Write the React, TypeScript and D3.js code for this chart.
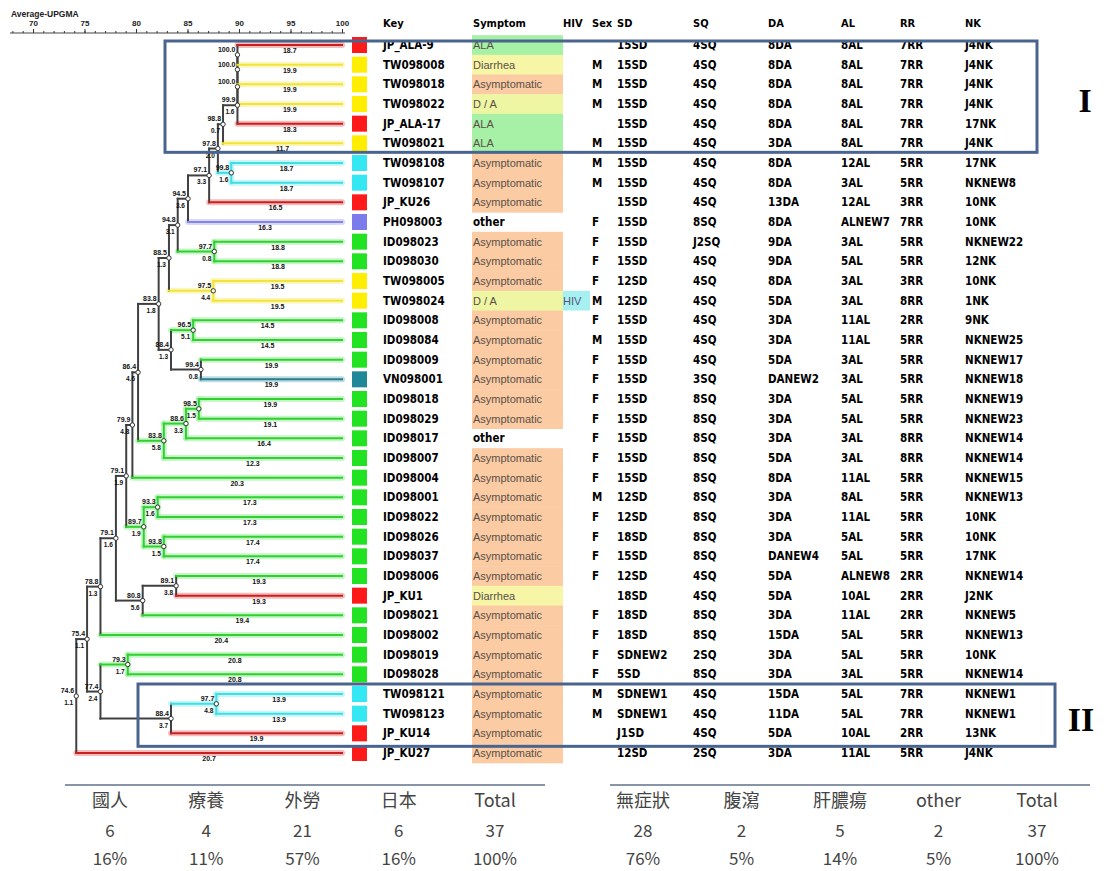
import React, { useEffect, useRef } from 'react';
import * as d3 from 'd3';

// ---------------- data ----------------
const keys = ['JP_ALA-9','TW098008','TW098018','TW098022','JP_ALA-17','TW098021','TW098108','TW098107','JP_KU26','PH098003','ID098023','ID098030','TW098005','TW098024','ID098008','ID098084','ID098009','VN098001','ID098018','ID098029','ID098017','ID098007','ID098004','ID098001','ID098022','ID098026','ID098037','ID098006','JP_KU1','ID098021','ID098002','ID098019','ID098028','TW098121','TW098123','JP_KU14','JP_KU27'];
const symptoms = ['ALA','Diarrhea','Asymptomatic','D / A','ALA','ALA','Asymptomatic','Asymptomatic','Asymptomatic','other','Asymptomatic','Asymptomatic','Asymptomatic','D / A','Asymptomatic','Asymptomatic','Asymptomatic','Asymptomatic','Asymptomatic','Asymptomatic','other','Asymptomatic','Asymptomatic','Asymptomatic','Asymptomatic','Asymptomatic','Asymptomatic','Asymptomatic','Diarrhea','Asymptomatic','Asymptomatic','Asymptomatic','Asymptomatic','Asymptomatic','Asymptomatic','Asymptomatic','Asymptomatic'];
const hivVals = ['','','','','','','','','','','','','','HIV','','','','','','','','','','','','','','','','','','','','','','',''];
const sexVals = ['','M','M','M','','M','M','M','','F','F','F','F','M','F','M','F','F','F','F','F','F','F','M','F','F','F','F','','F','F','F','F','M','M','',''];
const sdVals = ['15SD','15SD','15SD','15SD','15SD','15SD','15SD','15SD','15SD','15SD','15SD','15SD','12SD','12SD','15SD','15SD','15SD','15SD','15SD','15SD','15SD','15SD','15SD','12SD','12SD','18SD','15SD','12SD','18SD','18SD','18SD','SDNEW2','5SD','SDNEW1','SDNEW1','J1SD','12SD'];
const sqVals = ['4SQ','4SQ','4SQ','4SQ','4SQ','4SQ','4SQ','4SQ','4SQ','8SQ','J2SQ','4SQ','4SQ','4SQ','4SQ','4SQ','4SQ','3SQ','8SQ','8SQ','8SQ','8SQ','8SQ','8SQ','8SQ','8SQ','8SQ','4SQ','4SQ','8SQ','8SQ','2SQ','8SQ','4SQ','4SQ','4SQ','2SQ'];
const daVals = ['8DA','8DA','8DA','8DA','8DA','3DA','8DA','8DA','13DA','8DA','9DA','9DA','8DA','5DA','3DA','3DA','5DA','DANEW2','3DA','3DA','3DA','5DA','8DA','3DA','3DA','3DA','DANEW4','5DA','5DA','3DA','15DA','3DA','3DA','15DA','11DA','5DA','3DA'];
const alVals = ['8AL','8AL','8AL','8AL','8AL','8AL','12AL','3AL','12AL','ALNEW7','3AL','5AL','3AL','3AL','11AL','11AL','3AL','3AL','5AL','5AL','3AL','3AL','11AL','8AL','11AL','5AL','5AL','ALNEW8','10AL','11AL','5AL','5AL','3AL','5AL','5AL','10AL','11AL'];
const rrVals = ['7RR','7RR','7RR','7RR','7RR','7RR','5RR','5RR','3RR','7RR','5RR','5RR','3RR','8RR','2RR','5RR','5RR','5RR','5RR','5RR','8RR','8RR','5RR','5RR','5RR','5RR','5RR','2RR','2RR','2RR','5RR','5RR','5RR','7RR','7RR','2RR','5RR'];
const nkVals = ['J4NK','J4NK','J4NK','J4NK','17NK','J4NK','17NK','NKNEW8','10NK','10NK','NKNEW22','12NK','10NK','1NK','9NK','NKNEW25','NKNEW17','NKNEW18','NKNEW19','NKNEW23','NKNEW14','NKNEW14','NKNEW15','NKNEW13','10NK','10NK','17NK','NKNEW14','J2NK','NKNEW5','NKNEW13','10NK','NKNEW14','NKNEW1','NKNEW1','13NK','J4NK'];
const groups = ['R','Y','Y','Y','R','Y','C','C','R','P','G','G','Y','Y','G','G','G','T','G','G','G','G','G','G','G','G','G','G','R','G','G','G','G','C','C','R','R'];
const leafLengths = ['18.7','19.9','19.9','19.9','18.3','11.7','18.7','18.7','16.5','16.3','18.8','18.8','19.5','19.5','14.5','14.5','19.9','19.9','19.9','19.1','16.4','12.3','20.3','17.3','17.3','17.4','17.4','19.3','19.3','19.4','20.4','20.8','20.8','13.9','13.9','19.9','20.7'];
const headers = ['Key','Symptom','HIV','Sex','SD','SQ','DA','AL','RR','NK'];
const axisTicks = [70, 75, 80, 85, 90, 95, 100];

const natHeaders = ['國人','療養','外勞','日本','Total'];
const natCounts = ['6','4','21','6','37'];
const natPct = ['16%','11%','57%','16%','100%'];
const symHeaders = ['無症狀','腹瀉','肝膿瘍','other','Total'];
const symCounts = ['28','2','5','2','37'];
const symPct = ['76%','5%','14%','5%','100%'];

// tree (similarity of each join, displayed node label, std dev label)
type TNode = { sim?: number; label?: string; sd?: string; leaf?: number; children?: TNode[] };
const N = (sim: number, label: string, sd: string, ...kids: (TNode | number)[]): TNode => ({
  sim, label, sd, children: kids.map(k => (typeof k === 'number' ? { leaf: k } : k)),
});
const A1 = N(89.85, '100.0', '', 0, 1);
const A2 = N(89.85, '100.0', '', A1, 2);
const A3 = N(89.85, '100.0', '', A2, 3);
const A4 = N(89.85, '99.9', '1.6', A3, 4);
const C2 = N(88.45, '98.8', '0.7', A4, 5);
const CY1 = N(89.25, '99.8', '1.6', 6, 7);
const C3 = N(87.95, '97.8', '2.0', C2, CY1);
const C4 = N(87.1, '97.1', '3.3', C3, 8);
const N187 = N(85.05, '94.5', '3.6', C4, 9);
const G1 = N(87.6, '97.7', '0.8', 10, 11);
const N177 = N(84.05, '94.8', '3.1', N187, G1);
const Y1 = N(87.5, '97.5', '4.4', 12, 13);
const N168 = N(83.2, '88.5', '1.3', N177, Y1);
const G2 = N(85.55, '96.5', '5.1', 14, 15);
const G3 = N(86.3, '99.4', '0.8', 16, 17);
const N170 = N(83.4, '88.4', '1.3', G2, G3);
const N158 = N(82.2, '83.8', '1.8', N168, N170);
const G7 = N(86.1, '98.5', '1.5', 18, 19);
const N185 = N(84.85, '88.6', '3.3', G7, 20);
const N163 = N(82.7, '83.8', '5.8', N185, 21);
const N140 = N(80.2, '86.4', '4.6', N158, N163);
const N133 = N(79.65, '79.9', '4.8', N140, 22);
const G4 = N(82.1, '93.3', '1.6', 23, 24);
const G5 = N(82.7, '93.8', '1.5', 25, 26);
const NL = N(80.75, '89.7', '1.9', G4, G5);
const N127 = N(79.05, '79.1', '1.9', N133, NL);
const N175 = N(83.9, '89.1', '3.8', 27, 28);
const NKU = N(80.65, '80.8', '5.6', N175, 29);
const N115 = N(78.05, '79.1', '1.6', N127, NKU);
const N100 = N(76.55, '78.8', '1.3', N115, 30);
const G6 = N(79.2, '79.3', '1.7', 31, 32);
const CY2 = N(87.8, '97.7', '4.8', 33, 34);
const NII = N(83.4, '88.4', '3.7', CY2, 35);
const N110 = N(76.55, '77.4', '2.4', G6, NII);
const N87 = N(75.25, '75.4', '1.1', N100, N110);
const ROOT = N(74.2, '74.6', '1.1', N87, 36);

// ---------------- styles ----------------
const squareColor: Record<string, string> = { R: '#ff1a1a', Y: '#ffee00', C: '#33e8f2', G: '#22e322', P: '#7b7bec', T: '#1f8898' };
const lineColor: Record<string, string> = { R: '#c82020', Y: '#f0e43a', C: '#40dde2', G: '#2fd02f', P: '#8585e8', T: '#2a7d8a' };
const glowColor: Record<string, string> = { R: '#f3a0a0', Y: '#fbf5a8', C: '#b0f4f6', G: '#b0f4b0', P: '#c8c8f8', T: '#a0d0d8' };
const symptomBg: Record<string, string> = { Asymptomatic: '#fbcba3', Diarrhea: '#f6f6a6', 'D / A': '#eef6a4', ALA: '#a7f1a7', other: 'none' };
const DARK = '#404040';
const boldFont = '"Liberation Sans Narrow", "Arial Narrow", "DejaVu Sans Condensed", sans-serif';

const xScale = d3.scaleLinear().domain([70, 100]).range([33, 342]);
const yScale = d3.scaleLinear().domain([0, 36]).range([45, 753]);
const colX = [383, 473, 563, 592, 617, 693, 768, 841, 900, 965];
const natX = d3.scalePoint<string>().domain(natHeaders).range([110, 495]);
const symX = d3.scalePoint<string>().domain(symHeaders).range([643, 1037]);

type Laid = { node: TNode; x: number; y: number; grp: string | null; kids: Laid[] };
function layout(n: TNode): Laid {
  if (n.leaf !== undefined) {
    return { node: n, x: xScale(100), y: yScale(n.leaf), grp: groups[n.leaf], kids: [] };
  }
  const kids = (n.children || []).map(layout);
  const y = (kids[0].y + kids[kids.length - 1].y) / 2;
  const g0 = kids[0].grp;
  const grp = kids.every(k => k.grp === g0) ? g0 : null;
  return { node: n, x: xScale(n.sim as number), y, grp, kids };
}

export default function App() {
  const axisRef = useRef<SVGGElement>(null);
  useEffect(() => {
    if (!axisRef.current) return;
    const g = d3.select(axisRef.current);
    g.selectAll('*').remove();
    const minor = d3.axisTop(xScale).tickValues(d3.range(68, 101, 1)).tickSize(2).tickFormat(() => '');
    const major = d3.axisTop(xScale).tickValues(axisTicks).tickSize(4).tickFormat(d3.format('d'));
    g.append('g').call(minor).call(s => s.select('.domain').remove());
    g.append('g').call(major).call(s => s.select('.domain').remove())
      .call(s => s.selectAll('text').attr('font-size', 8).attr('font-weight', 'bold').attr('font-family', 'Arial, sans-serif').attr('fill', '#222'));
    g.selectAll('line').attr('stroke', '#333');
  }, []);

  const root = layout(ROOT);
  const all: Laid[] = [];
  const walk = (l: Laid) => { all.push(l); l.kids.forEach(walk); };
  walk(root);
  const internals = all.filter(l => l.kids.length > 0);
  const leaves = all.filter(l => l.kids.length === 0);

  const segs: { x1: number; y1: number; x2: number; y2: number; c: string | null; leaf: boolean }[] = [];
  internals.forEach(n => {
    segs.push({ x1: n.x, y1: n.kids[0].y, x2: n.x, y2: n.kids[n.kids.length - 1].y, c: n.grp, leaf: false });
    n.kids.forEach(k => segs.push({ x1: n.x, y1: k.y, x2: k.x, y2: k.y, c: k.grp, leaf: k.kids.length === 0 }));
  });
  const parentOf = new Map<TNode, Laid>();
  internals.forEach(n => n.kids.forEach(k => parentOf.set(k.node, n)));

  const rowH = yScale(1) - yScale(0);

  return (
    <svg width={1109} height={871} style={{ position: 'absolute', left: 0, top: 0, background: '#fff' }}>
      {/* title + axis */}
      <text x={11} y={17} fontSize={8.5} fontWeight="bold" fontFamily="Arial, sans-serif" fill="#222">Average-UPGMA</text>
      <line x1={10} x2={345} y1={33} y2={33} stroke="#444" strokeWidth={1.2} />
      <g ref={axisRef} transform="translate(0,33)" />

      {/* symptom backgrounds */}
      {symptoms.map((s, i) => symptomBg[s] !== 'none' ? (
        <rect key={'sb' + i} x={472} y={yScale(i) - rowH / 2} width={91} height={rowH + 0.5} fill={symptomBg[s]} />
      ) : null)}
      {hivVals.map((h, i) => h ? <rect key={'hb' + i} x={563} y={yScale(i) - rowH / 2} width={27} height={rowH} fill="#a6f0f2" /> : null)}

      {/* dendrogram glow */}
      {segs.filter(s => s.c).map((s, i) => (
        <line key={'gl' + i} x1={s.x1} y1={s.y1} x2={s.x2} y2={s.y2} stroke={glowColor[s.c as string]} strokeWidth={6} strokeLinecap="round" opacity={0.7} />
      ))}
      {segs.map((s, i) => (
        <line key={'sg' + i} x1={s.x1} y1={s.y1} x2={s.x2} y2={s.y2} stroke={s.c ? lineColor[s.c] : DARK} strokeWidth={2} strokeLinecap="square" />
      ))}
      {/* leaf branch lengths */}
      {leaves.map(l => {
        const p = parentOf.get(l.node) as Laid;
        return (
          <text key={'ll' + l.node.leaf} x={(p.x + l.x) / 2} y={l.y + 8} fontSize={7} fontWeight="bold" fontFamily="Arial, sans-serif" textAnchor="middle" fill="#111">
            {leafLengths[l.node.leaf as number]}
          </text>
        );
      })}
      {/* nodes */}
      {internals.map((n, i) => (
        <g key={'nd' + i}>
          <circle cx={n.x} cy={n.y} r={2.2} fill="#fff" stroke="#333" strokeWidth={1} />
          <text x={n.x - 2} y={n.y - 3} fontSize={7} fontWeight="bold" fontFamily="Arial, sans-serif" textAnchor="end" fill="#111">{n.node.label}</text>
          {n.node.sd ? <text x={n.x - 3} y={n.y + 9} fontSize={6.5} fontWeight="bold" fontFamily="Arial, sans-serif" textAnchor="end" fill="#111">{n.node.sd}</text> : null}
        </g>
      ))}

      {/* color squares */}
      {groups.map((g, i) => (
        <rect key={'sq' + i} x={352} y={yScale(i) - 8} width={15} height={16} fill={squareColor[g]} />
      ))}

      {/* table header */}
      {headers.map((h, j) => (
        <text key={'h' + j} x={colX[j]} y={27} fontSize={11} fontWeight="bold" fontFamily={boldFont} fill="#000">{h}</text>
      ))}
      {/* table rows */}
      {keys.map((k, i) => {
        const y = yScale(i) + 4;
        const s = symptoms[i];
        const cells = [sdVals[i], sqVals[i], daVals[i], alVals[i], rrVals[i], nkVals[i]];
        return (
          <g key={'r' + i}>
            <text x={colX[0]} y={y} fontSize={11.5} fontWeight="bold" fontFamily={boldFont} fill="#000">{k}</text>
            {s === 'other'
              ? <text x={colX[1]} y={y} fontSize={11.5} fontWeight="bold" fontFamily={boldFont} fill="#000">{s}</text>
              : <text x={colX[1]} y={y} fontSize={11} fontFamily="Arial, 'Liberation Sans', sans-serif" fill="#5a5048">{s}</text>}
            {hivVals[i] ? <text x={colX[2]} y={y} fontSize={11} fontFamily="Arial, sans-serif" fill="#557">{hivVals[i]}</text> : null}
            <text x={colX[3]} y={y} fontSize={11.5} fontWeight="bold" fontFamily={boldFont} fill="#000">{sexVals[i]}</text>
            {cells.map((c, j) => (
              <text key={j} x={colX[4 + j]} y={y} fontSize={11.5} fontWeight="bold" fontFamily={boldFont} fill="#000">{c}</text>
            ))}
          </g>
        );
      })}

      {/* highlight boxes */}
      <rect x={165} y={yScale(0) - 4} width={872} height={yScale(5) - yScale(0) + 13} fill="none" stroke="#4a6490" strokeWidth={3} />
      <text x={1085} y={112} fontSize={34} fontWeight="bold" fontFamily="'Liberation Serif', 'DejaVu Serif', serif" textAnchor="middle" fill="#000">I</text>
      <rect x={138} y={yScale(33) - 10} width={917} height={yScale(35) - yScale(33) + 23} fill="none" stroke="#4a6490" strokeWidth={3} />
      <text x={1081} y={731} fontSize={34} fontWeight="bold" fontFamily="'Liberation Serif', 'DejaVu Serif', serif" textAnchor="middle" fill="#000">II</text>

      {/* summary tables */}
      <line x1={65} x2={545} y1={785} y2={785} stroke="#8696a8" strokeWidth={2} />
      <line x1={610} x2={1090} y1={785} y2={785} stroke="#8696a8" strokeWidth={2} />
      {natHeaders.map((h, j) => (
        <g key={'nt' + j} fontFamily="'Noto Sans CJK TC', 'Noto Sans', sans-serif" fill="#444" textAnchor="middle">
          <text x={natX(h)} y={807} fontSize={18}>{h}</text>
          <text x={natX(h)} y={837} fontSize={17}>{natCounts[j]}</text>
          <text x={natX(h)} y={865} fontSize={17}>{natPct[j]}</text>
        </g>
      ))}
      {symHeaders.map((h, j) => (
        <g key={'st' + j} fontFamily="'Noto Sans CJK TC', 'Noto Sans', sans-serif" fill="#444" textAnchor="middle">
          <text x={symX(h)} y={807} fontSize={18}>{h}</text>
          <text x={symX(h)} y={837} fontSize={17}>{symCounts[j]}</text>
          <text x={symX(h)} y={865} fontSize={17}>{symPct[j]}</text>
        </g>
      ))}
    </svg>
  );
}
